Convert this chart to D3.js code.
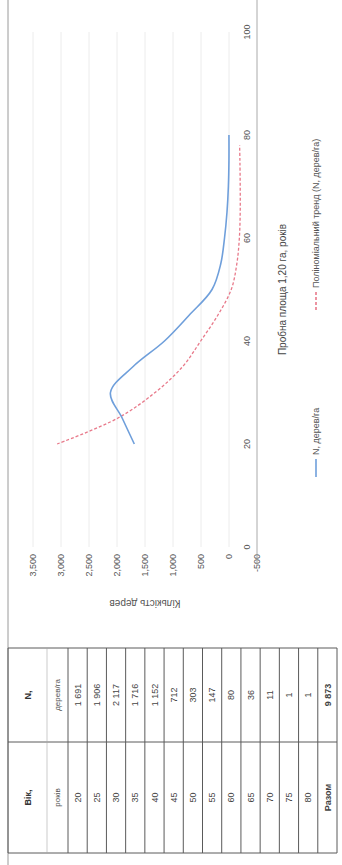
<!DOCTYPE html>
<html>
<head>
<meta charset="utf-8">
<script src="https://cdn.jsdelivr.net/npm/d3@7"></script>
<style>
  html, body { margin: 0; padding: 0; background: #fff; }
  svg { display: block; font-family: "Liberation Sans", Arial, sans-serif; }
</style>
</head>
<body>
<svg id="page" width="342" height="865"></svg>
<script>
// Age classes (years) and observed stand density
const ages = [20, 25, 30, 35, 40, 45, 50, 55, 60, 65, 70, 75, 80];
const treesPerHa = [1691, 1906, 2117, 1716, 1152, 712, 303, 147, 80, 36, 11, 1, 1];

// Fitted trend of the density
const trendAges = [20, 25, 30, 35, 40, 45, 50, 55, 60, 65, 70, 75, 78];
const trendValues = [3070, 1990, 1320, 830, 505, 200, -40, -140, -185, -200, -200, -195, -190];

// Axis ticks
const valueTicks = [-500, 0, 500, 1000, 1500, 2000, 2500, 3000, 3500];
const ageTicks = [0, 20, 40, 60, 80, 100];

// Texts
const valueTitle = "Кількість дерев";
const ageTitle = "Пробна площа 1,20 га, років";
const seriesNames = ["N, дерев/га", "Поліноміальний тренд (N, дерев/га)"];
const tableHeader = [["Вік,", "років"], ["N,", "дерев/га"]];
const totalLabel = "Разом";

// The sheet is laid out landscape (865 x 342) and turned a quarter turn
const W = 865, H = 342;
const svg = d3.select("#page");
const page = svg.append("g").attr("transform", `translate(0,${W}) rotate(-90)`);

const ink = "#555";
const x = d3.scaleLinear().domain([0, 100]).range([318, 833]);
const y = d3.scaleLinear().domain([-500, 3500]).range([257, 33]);

// sheet border
page.append("line").attr("x1", 0).attr("x2", W).attr("y1", 8).attr("y2", 8)
  .attr("stroke", "#9a9a9a").attr("stroke-width", 1);

// ---- chart ----
const grid = page.append("g");
grid.selectAll("line").data(valueTicks.filter(v => v > -500)).join("line")
  .attr("x1", x(0)).attr("x2", x(100))
  .attr("y1", d => y(d)).attr("y2", d => y(d))
  .attr("stroke", "#ececec").attr("stroke-width", 1);

// value axis labels
const fmt = d3.format(",");
page.append("g").selectAll("text").data(valueTicks).join("text")
  .attr("x", 311).attr("y", d => y(d)).attr("dy", "0.35em")
  .attr("text-anchor", "end").attr("font-size", 9).attr("fill", ink)
  .text(d => d < 0 ? "-" + fmt(-d) : fmt(d));

// bottom rule of the plot
page.append("line").attr("x1", 300).attr("x2", W).attr("y1", y(-500)).attr("y2", y(-500))
  .attr("stroke", "#aaa").attr("stroke-width", 1);

// age axis labels
page.append("g").selectAll("text").data(ageTicks).join("text")
  .attr("x", d => x(d)).attr("y", 247).attr("dy", "0.35em")
  .attr("text-anchor", "middle").attr("font-size", 9).attr("fill", ink)
  .text(d => d);

// axis titles
page.append("text")
  .attr("transform", `translate(262,${(y(-500) + y(3500)) / 2}) rotate(-90)`)
  .attr("text-anchor", "middle").attr("dy", "0.35em")
  .attr("font-size", 10).attr("fill", ink).text(valueTitle);

page.append("text")
  .attr("x", (x(0) + x(100)) / 2).attr("y", 282).attr("dy", "0.35em")
  .attr("text-anchor", "middle").attr("font-size", 10).attr("fill", "#444")
  .text(ageTitle);

// series
const trendLine = d3.line().x((d, i) => x(trendAges[i])).y(d => y(d)).curve(d3.curveCatmullRom.alpha(0.5));
page.append("path").datum(trendValues)
  .attr("d", trendLine).attr("fill", "none")
  .attr("stroke", "#e8798a").attr("stroke-width", 1.3).attr("stroke-dasharray", "3,2");

const obsLine = d3.line().x((d, i) => x(ages[i])).y(d => y(d)).curve(d3.curveCatmullRom.alpha(0.5));
page.append("path").datum(treesPerHa)
  .attr("d", obsLine).attr("fill", "none")
  .attr("stroke", "#6f9fdb").attr("stroke-width", 1.6);

// legend
const legend = page.append("g");
const legendItems = [
  { name: seriesNames[0], x0: 388, color: "#6f9fdb", dash: null },
  { name: seriesNames[1], x0: 555, color: "#e8798a", dash: "3,2" }
];
legendItems.forEach(it => {
  legend.append("line").attr("x1", it.x0).attr("x2", it.x0 + 18)
    .attr("y1", 316).attr("y2", 316)
    .attr("stroke", it.color).attr("stroke-width", 1.6)
    .attr("stroke-dasharray", it.dash);
  legend.append("text").attr("x", it.x0 + 22).attr("y", 316).attr("dy", "0.35em")
    .attr("font-size", 9).attr("fill", ink).text(it.name);
});

// ---- table ----
const tbl = page.append("g");
const colX = [12, 123, 217];           // age column | density column
const headTop = 8, headMid = 47, bodyTop = 68, bodyBottom = 337;
const rowLabels = ages.map(String).concat([totalLabel]);
const total = d3.sum(treesPerHa);
const spaced = v => d3.format(",")(v).replace(/,/g, " ");
const rowValues = treesPerHa.map(spaced).concat([spaced(total)]);
const band = d3.scaleBand().domain(d3.range(rowLabels.length)).range([bodyTop, bodyBottom]);

const lineColor = "#5a5a5a";
// column rules
colX.forEach(cx => tbl.append("line")
  .attr("x1", cx).attr("x2", cx).attr("y1", headTop).attr("y2", bodyBottom)
  .attr("stroke", lineColor).attr("stroke-width", 1));
// row rules
[headTop, headMid].concat(d3.range(rowLabels.length).map(i => band(i)), [bodyBottom])
  .forEach((ry, i) => tbl.append("line")
    .attr("x1", colX[0]).attr("x2", colX[2]).attr("y1", ry).attr("y2", ry)
    .attr("stroke", i === 1 ? "#aaa" : lineColor).attr("stroke-width", i === 1 ? 0.6 : 1));

// header cells
tableHeader.forEach((lines, c) => {
  const cx = (colX[c] + colX[c + 1]) / 2;
  tbl.append("text").attr("x", cx).attr("y", (headTop + headMid) / 2).attr("dy", "0.35em")
    .attr("text-anchor", "middle").attr("font-size", 9).attr("font-weight", "bold")
    .attr("fill", "#333").text(lines[0]);
  tbl.append("text").attr("x", cx).attr("y", (headMid + bodyTop) / 2).attr("dy", "0.35em")
    .attr("text-anchor", "middle").attr("font-size", 8).attr("fill", ink).text(lines[1]);
});

// body cells
rowLabels.forEach((lab, i) => {
  const cy = band(i) + band.bandwidth() / 2;
  const isTotal = i === rowLabels.length - 1;
  tbl.append("text").attr("x", (colX[0] + colX[1]) / 2).attr("y", cy).attr("dy", "0.35em")
    .attr("text-anchor", "middle").attr("font-size", 9)
    .attr("font-weight", isTotal ? "bold" : null).attr("fill", "#444").text(lab);
  tbl.append("text").attr("x", (colX[1] + colX[2]) / 2).attr("y", cy).attr("dy", "0.35em")
    .attr("text-anchor", "middle").attr("font-size", 9)
    .attr("font-weight", isTotal ? "bold" : null).attr("fill", "#444").text(rowValues[i]);
});
</script>
</body>
</html>
